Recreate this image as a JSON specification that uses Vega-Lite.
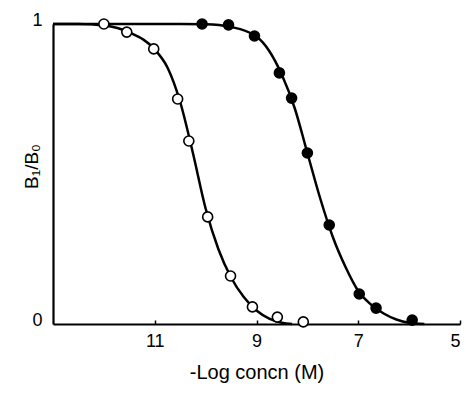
{
  "$schema": "https://vega.github.io/schema/vega-lite/v6.json",
  "autosize": "none",
  "width": 407,
  "height": 300,
  "padding": {"left": 53, "top": 24, "right": 6, "bottom": 72},
  "background": "white",
  "config": {
    "view": {"stroke": null},
    "font": "Liberation Sans",
    "axis": {"grid": false, "domainColor": "black", "domainWidth": 2.2, "tickColor": "black", "labelColor": "black", "titleColor": "black", "labelFont": "Liberation Sans", "titleFont": "Liberation Sans", "labelFontSize": 18, "titleFontSize": 20, "titleFontWeight": "normal"}
  },
  "datasets": {
    "curves": [
      {"s": "open", "x": 13, "y": 1}, {"s": "open", "x": 12.5, "y": 1}, {"s": "open", "x": 12, "y": 0.995},
      {"s": "open", "x": 11.5, "y": 0.972}, {"s": "open", "x": 11, "y": 0.915}, {"s": "open", "x": 10.75, "y": 0.855},
      {"s": "open", "x": 10.5, "y": 0.74}, {"s": "open", "x": 10.25, "y": 0.57}, {"s": "open", "x": 10, "y": 0.385},
      {"s": "open", "x": 9.75, "y": 0.25}, {"s": "open", "x": 9.5, "y": 0.155}, {"s": "open", "x": 9.25, "y": 0.09},
      {"s": "open", "x": 9, "y": 0.045}, {"s": "open", "x": 8.75, "y": 0.018}, {"s": "open", "x": 8.5, "y": 0.004},
      {"s": "open", "x": 8.3, "y": 0},
      {"s": "filled", "x": 13, "y": 1}, {"s": "filled", "x": 10.5, "y": 1}, {"s": "filled", "x": 10, "y": 0.999},
      {"s": "filled", "x": 9.5, "y": 0.99}, {"s": "filled", "x": 9, "y": 0.958}, {"s": "filled", "x": 8.75, "y": 0.91},
      {"s": "filled", "x": 8.5, "y": 0.83}, {"s": "filled", "x": 8.25, "y": 0.72}, {"s": "filled", "x": 8, "y": 0.57},
      {"s": "filled", "x": 7.75, "y": 0.42}, {"s": "filled", "x": 7.5, "y": 0.29}, {"s": "filled", "x": 7.25, "y": 0.19},
      {"s": "filled", "x": 7, "y": 0.11}, {"s": "filled", "x": 6.75, "y": 0.065}, {"s": "filled", "x": 6.5, "y": 0.035},
      {"s": "filled", "x": 6.25, "y": 0.015}, {"s": "filled", "x": 6, "y": 0.004}, {"s": "filled", "x": 5.7, "y": 0}
    ],
    "points": [
      {"s": "open", "x": 12.0, "y": 1.0}, {"s": "open", "x": 11.55, "y": 0.973}, {"s": "open", "x": 11.02, "y": 0.917},
      {"s": "open", "x": 10.55, "y": 0.75}, {"s": "open", "x": 10.33, "y": 0.61}, {"s": "open", "x": 9.96, "y": 0.357},
      {"s": "open", "x": 9.51, "y": 0.16}, {"s": "open", "x": 9.08, "y": 0.057}, {"s": "open", "x": 8.59, "y": 0.023},
      {"s": "open", "x": 8.08, "y": 0.007},
      {"s": "filled", "x": 10.07, "y": 1.0}, {"s": "filled", "x": 9.55, "y": 0.997}, {"s": "filled", "x": 9.04, "y": 0.96},
      {"s": "filled", "x": 8.55, "y": 0.837}, {"s": "filled", "x": 8.31, "y": 0.753}, {"s": "filled", "x": 8.0, "y": 0.57},
      {"s": "filled", "x": 7.57, "y": 0.33}, {"s": "filled", "x": 6.98, "y": 0.1}, {"s": "filled", "x": 6.65, "y": 0.053},
      {"s": "filled", "x": 5.94, "y": 0.013}
    ]
  },
  "layer": [
    {
      "data": {"name": "curves"},
      "mark": {"type": "line", "interpolate": "monotone", "color": "black", "strokeWidth": 2.5, "clip": false},
      "encoding": {
        "x": {"field": "x", "type": "quantitative", "scale": {"domain": [13, 5], "nice": false, "zero": false},
          "axis": {"values": [11, 9, 7, 5], "title": "-Log concn (M)", "tickSize": -4, "ticks": true, "tickWidth": 1.5, "labelPadding": 12, "titlePadding": 12}},
        "y": {"field": "y", "type": "quantitative", "scale": {"domain": [0, 1], "nice": false},
          "axis": {"values": [0, 1], "format": "d", "title": "B₁/B₀", "ticks": false, "labelPadding": 11, "labelBaseline": "middle", "labelOffset": -4,
            "titleX": -22, "titleY": 142, "titleBaseline": "middle", "titleAlign": "center", "titleFontSize": 19}},
        "detail": {"field": "s"}
      }
    },
    {
      "data": {"name": "points"},
      "mark": {"type": "point", "shape": "circle", "size": 100, "stroke": "black", "strokeWidth": 1.6, "opacity": 1, "filled": false, "clip": false},
      "encoding": {
        "x": {"field": "x", "type": "quantitative"},
        "y": {"field": "y", "type": "quantitative"},
        "fill": {"field": "s", "type": "nominal", "scale": {"domain": ["open", "filled"], "range": ["white", "black"]}, "legend": null}
      }
    }
  ]
}
